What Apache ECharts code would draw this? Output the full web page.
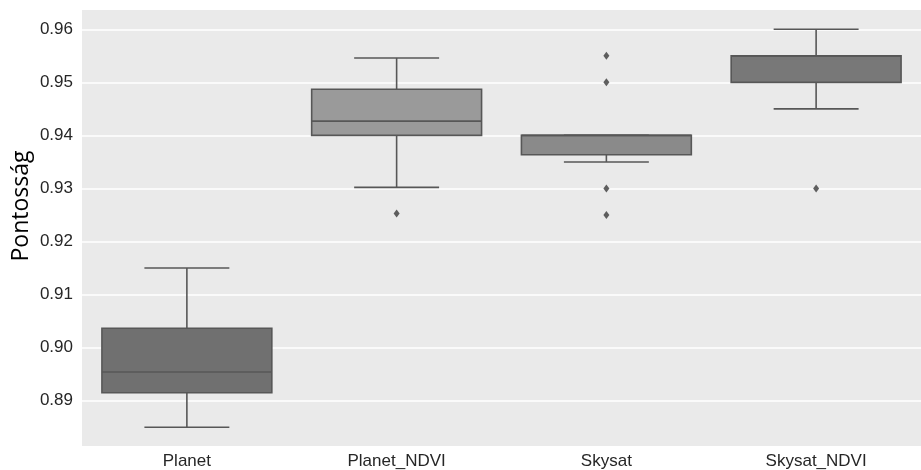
<!DOCTYPE html>
<html>
<head>
<meta charset="utf-8">
<script src="https://cdn.jsdelivr.net/npm/echarts@6/dist/echarts.min.js"></script>
<style>html,body{margin:0;padding:0;background:#fff}#c{width:921px;height:470px}</style>
</head>
<body>
<div id="c"></div>
<script>
var categories = ['Planet', 'Planet_NDVI', 'Skysat', 'Skysat_NDVI'];
var lowerWhisker = [0.885, 0.9302, 0.935, 0.945];
var q1 = [0.8915, 0.94, 0.93635, 0.95];
var median = [0.8954, 0.9427, 0.94, 0.955];
var q3 = [0.90365, 0.9487, 0.94, 0.955];
var upperWhisker = [0.915, 0.9546, 0.94, 0.96];
var boxColors = ['#707070', '#9a9a9a', '#8a8a8a', '#787878'];
var outlierCat = [1, 2, 2, 2, 2, 3];
var outlierVal = [0.9253, 0.955, 0.95, 0.93, 0.925, 0.93];
var yTicks = [0.89, 0.90, 0.91, 0.92, 0.93, 0.94, 0.95, 0.96];

var boxData = categories.map(function (c, i) {
  return [i, lowerWhisker[i], q1[i], median[i], q3[i], upperWhisker[i]];
});
var outlierData = outlierCat.map(function (c, i) { return [c, outlierVal[i]]; });

var edge = '#575757';

function renderBox(params, api) {
  var idx = api.value(0);
  var band = api.size([1, 0])[0];
  var bw = band * 0.81;
  var cw = bw / 2;
  var pLow = api.coord([idx, api.value(1)]);
  var pQ1 = api.coord([idx, api.value(2)]);
  var pMed = api.coord([idx, api.value(3)]);
  var pQ3 = api.coord([idx, api.value(4)]);
  var pHigh = api.coord([idx, api.value(5)]);
  var x = pQ1[0];
  var ls = { stroke: edge, lineWidth: 1.6 };
  return {
    type: 'group',
    children: [
      { type: 'line', shape: { x1: x, y1: pQ1[1], x2: x, y2: pLow[1] }, style: ls },
      { type: 'line', shape: { x1: x, y1: pQ3[1], x2: x, y2: pHigh[1] }, style: ls },
      { type: 'line', shape: { x1: x - cw / 2, y1: pLow[1], x2: x + cw / 2, y2: pLow[1] }, style: ls },
      { type: 'line', shape: { x1: x - cw / 2, y1: pHigh[1], x2: x + cw / 2, y2: pHigh[1] }, style: ls },
      { type: 'rect', shape: { x: x - bw / 2, y: pQ3[1], width: bw, height: pQ1[1] - pQ3[1] },
        style: { fill: boxColors[idx], stroke: edge, lineWidth: 1.6 } },
      { type: 'line', shape: { x1: x - bw / 2, y1: pMed[1], x2: x + bw / 2, y2: pMed[1] }, style: ls }
    ]
  };
}

var chart = echarts.init(document.getElementById('c'));
chart.setOption({
  animation: false,
  backgroundColor: '#ffffff',
  grid: { left: 82, right: 0, top: 10, bottom: 24, show: true, backgroundColor: '#eaeaea', borderWidth: 0 },
  xAxis: {
    type: 'category', data: categories,
    axisLine: { show: false }, axisTick: { show: false },
    axisLabel: { color: '#262626', fontSize: 17, fontFamily: 'Liberation Sans, Arial, sans-serif', margin: 7 },
    splitLine: { show: false }
  },
  yAxis: {
    type: 'value', min: 0.881463, max: 0.963637,
    axisLine: { show: false },
    axisTick: { show: false, customValues: yTicks },
    axisLabel: {
      customValues: yTicks, color: '#262626', fontSize: 17,
      fontFamily: 'Liberation Sans, Arial, sans-serif', margin: 9,
      formatter: function (v) { return v.toFixed(2); }
    },
    splitLine: { show: true, lineStyle: { color: '#ffffff', width: 1.5 } }
  },
  graphic: [{
    type: 'text', x: 21, y: 206, rotation: Math.PI / 2,
    style: { text: 'Pontosság', fill: '#000', fontSize: 23, fontFamily: 'Open Sans, sans-serif',
      align: 'center', verticalAlign: 'middle' }
  }],
  series: [
    { type: 'custom', renderItem: renderBox, data: boxData, encode: { x: 0, y: [1, 2, 3, 4, 5] } },
    { type: 'scatter', data: outlierData, symbol: 'diamond', symbolSize: [6, 8],
      itemStyle: { color: '#3a3a3a' } }
  ]
});
</script>
</body>
</html>
